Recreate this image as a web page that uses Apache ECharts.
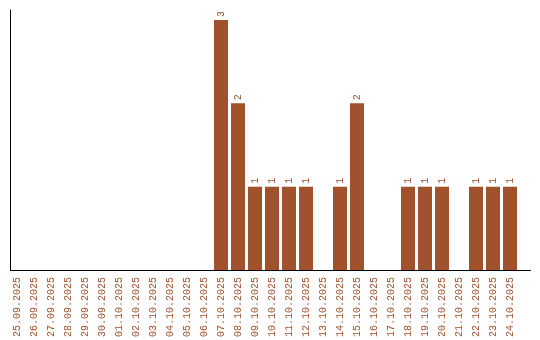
<!DOCTYPE html>
<html><head><meta charset="utf-8">
<script src="https://cdn.jsdelivr.net/npm/echarts@6/dist/echarts.min.js"></script>
<style>html,body{margin:0;padding:0;background:#fff}#c{width:540px;height:340px}</style>
</head><body><div id="c"></div>
<script>
const categories = ['25.09.2025','26.09.2025','27.09.2025','28.09.2025','29.09.2025','30.09.2025','01.10.2025','02.10.2025','03.10.2025','04.10.2025','05.10.2025','06.10.2025','07.10.2025','08.10.2025','09.10.2025','10.10.2025','11.10.2025','12.10.2025','13.10.2025','14.10.2025','15.10.2025','16.10.2025','17.10.2025','18.10.2025','19.10.2025','20.10.2025','21.10.2025','22.10.2025','23.10.2025','24.10.2025'];
const values = [0,0,0,0,0,0,0,0,0,0,0,0,3,2,1,1,1,1,0,1,2,0,0,1,1,1,0,1,1,1];
const color = '#a0522d';
const font = 'Liberation Mono';
const chart = echarts.init(document.getElementById('c'), null, {renderer:'canvas'});
chart.setOption({
  backgroundColor:'#fff',
  animation:false,
  grid:[
    {left:8.5, right:21.5, top:20, bottom:70},
    {left:10.5, right:9.5, top:10, bottom:70}
  ],
  xAxis:[
    {type:'category', gridIndex:0, data:categories, boundaryGap:true,
     axisLine:{show:false}, axisTick:{show:false},
     axisLabel:{rotate:90, interval:0, color:color, fontFamily:font, fontSize:10, margin:7}},
    {type:'value', gridIndex:1, min:0, max:1, axisLine:{show:true, lineStyle:{color:'#000', width:1}},
     axisTick:{show:false}, axisLabel:{show:false}, splitLine:{show:false}}
  ],
  yAxis:[
    {type:'value', gridIndex:0, min:0, max:3, axisLine:{show:false}, axisTick:{show:false}, axisLabel:{show:false}, splitLine:{show:false}},
    {type:'value', gridIndex:1, min:0, max:1, axisLine:{show:true, lineStyle:{color:'#000', width:1}},
     axisTick:{show:false}, axisLabel:{show:false}, splitLine:{show:false}}
  ],
  series:[{
    type:'bar', xAxisIndex:0, yAxisIndex:0, data:values, barWidth:14,
    itemStyle:{color:color},
    label:{show:true, position:'top', rotate:90, align:'left', verticalAlign:'middle', distance:3,
      color:color, fontFamily:font, fontSize:10,
      formatter:p => p.value ? String(p.value) : ''}
  }]
});
</script></body></html>
